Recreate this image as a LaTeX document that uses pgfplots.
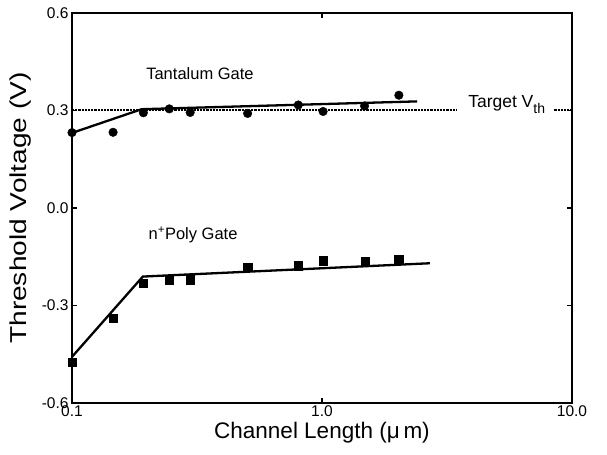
\documentclass[border=0pt]{standalone}
\usepackage{pgfplots}
\pgfplotsset{compat=1.18}
\usepackage{fontspec}
\setmainfont{Liberation Sans}
\usepackage{graphicx}
\begin{document}
\begin{tikzpicture}
\path[draw=none] (-72bp,-52bp) rectangle (535bp,403bp);
\begin{axis}[
  at={(0,0)}, anchor=south west,
  scale only axis,
  width=500bp, height=390bp,
  xmode=log, xmin=0.1, xmax=10,
  ymin=-0.6, ymax=0.6,
  xtick={0.1,1,10}, xticklabels={0.1,1.0,10.0},
  ytick={-0.6,-0.3,0,0.3,0.6}, yticklabels={-0.6,-0.3,0.0,0.3,0.6},
  xminorticks=false, yminorticks=false,
  tick align=inside, major tick length=5bp,
  axis line style={line width=1.8bp},
  every tick/.style={line width=1.4bp, black},
  tick label style={font=\fontsize{15.5bp}{17bp}\selectfont},
  /pgf/number format/assume math mode=true,
  xticklabel style={yshift=1bp},
  xlabel={Channel Length (μ\,m)},
  ylabel={\scalebox{1.22}[1]{Threshold Voltage (V)}},
  xlabel style={font=\fontsize{22.5bp}{26bp}\selectfont, at={(axis description cs:0.5,-0.077)}, anchor=center},
  ylabel style={font=\fontsize{23bp}{26bp}\selectfont, at={(axis description cs:-0.102,0.5)}, anchor=center},
  clip=false,
]
% target Vth dotted line
\addplot[black, line width=2bp, dash pattern=on 2.2bp off 1bp] coordinates {(0.1,0.3) (3.44,0.3)};
\addplot[black, line width=2bp, dash pattern=on 2.2bp off 1bp] coordinates {(8.5,0.3) (10,0.3)};
% Tantalum gate data
\addplot[only marks, mark=*, mark size=4.3bp, black] coordinates {
(0.1,0.232) (0.146,0.233) (0.193,0.293) (0.245,0.305) (0.297,0.294)
(0.504,0.291) (0.804,0.317) (1.01,0.297) (1.48,0.314) (2.03,0.347)};
\addplot[black, line width=2.3bp, no marks] coordinates {(0.1,0.231) (0.19,0.304) (2.4,0.328)};
% n+ poly gate data
\addplot[only marks, mark=square*, mark size=4.2bp, black] coordinates {
(0.1,-0.475) (0.146,-0.339) (0.193,-0.231) (0.245,-0.222) (0.297,-0.221)
(0.504,-0.183) (0.804,-0.178) (1.01,-0.162) (1.49,-0.163) (2.03,-0.159)};
\addplot[black, line width=2.3bp, no marks] coordinates {(0.1,-0.458) (0.192,-0.211) (2.7,-0.170)};
\node[font=\fontsize{16.5bp}{19bp}\selectfont] at (axis cs:0.325,0.412) {Tantalum Gate};
\node[font=\fontsize{16.5bp}{19bp}\selectfont] at (axis cs:0.305,-0.083) {n\textsuperscript{+}Poly Gate};
\node[font=\fontsize{17.5bp}{19bp}\selectfont, anchor=west, inner sep=0pt] at (axis cs:3.84,0.318) {Target V\raisebox{-0.35em}{\fontsize{14bp}{16bp}\selectfont th}};
\end{axis}
\end{tikzpicture}
\end{document}
